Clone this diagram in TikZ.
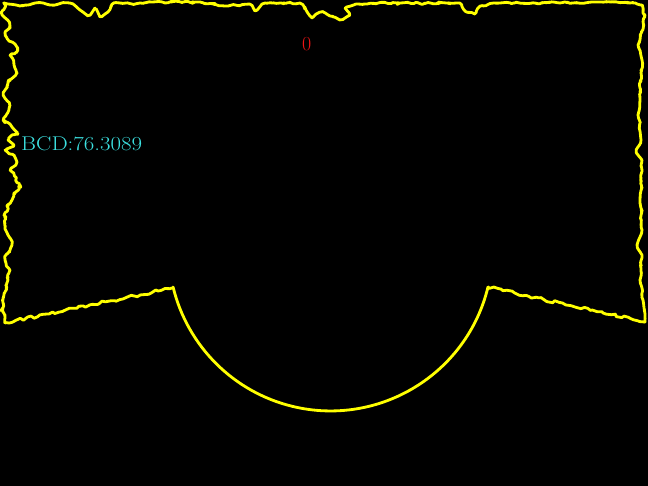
\documentclass[tikz,border=0pt]{standalone}
\usepackage{tikz}
\usetikzlibrary{decorations.pathmorphing,positioning,calc}

\begin{document}
\pgfmathsetseed{7}
\begin{tikzpicture}[
    x=0.03cm, y=-0.03cm,
    edge/.style={draw=contour, line width=2.4pt, line join=round, line cap=round},
    rough/.style={decoration={random steps, segment length=3pt, amplitude=1.3pt}},
    rougher/.style={decoration={random steps, segment length=2.5pt, amplitude=2pt}},
    label/.style={anchor=base west, inner sep=0pt, font=\fontsize{17}{17}\selectfont}
]
\definecolor{contour}{RGB}{255,255,0}
\definecolor{score}{RGB}{60,225,225}
\definecolor{index}{RGB}{240,20,20}

% Background
\fill[black] (0,0) rectangle (648,486);
\useasboundingbox (0,0) rectangle (648,486);

% Corner and knee points of the contour
\coordinate (bl) at (5,323);
\coordinate (tl) at (4,3);
\coordinate (tr) at (642,5);
\coordinate (br) at (645,322);
\coordinate (rk) at (488,287);
\coordinate (lk) at (172,288);

% Left edge
\path[edge, rounded corners=1.5pt] (bl)
  decorate[rougher]{-- (3,300) -- (8,280) -- (10,270) -- (5,260) -- (12,245)
  -- (8,235) -- (4,215) -- (12,200) -- (20,185) -- (10,170) -- (16,165)
  -- (14,155) -- (5,150) -- (14,146) -- (8,140) -- (18,134) -- (12,127)
  -- (3,120) -- (10,105) -- (3,95) -- (8,82) -- (16,75) -- (14,65)
  -- (10,55) -- (18,50) -- (15,44) -- (5,35) -- (10,25) -- (2,15) -- (tl)};

% Top edge
\path[edge, rounded corners=1.5pt] (tl)
  decorate[rough]{-- (20,6) -- (35,3) -- (50,5) -- (70,3) -- (80,10)
  -- (88,16) -- (95,8) -- (100,17) -- (108,12) -- (112,4) -- (140,3)
  -- (200,2) -- (225,6) -- (250,4) -- (255,11) -- (262,4) -- (300,3)
  -- (306,10) -- (312,18) -- (320,12) -- (330,16) -- (340,20) -- (350,15)
  -- (345,8) -- (356,4) -- (400,3) -- (460,3) -- (466,12) -- (475,14)
  -- (480,6) -- (500,3) -- (560,3) -- (600,2) -- (630,3) -- (tr)};

% Right edge
\path[edge, rounded corners=1.5pt] (tr)
  decorate[rough]{-- (645,15) -- (640,40) -- (638,45) -- (642,60)
  -- (640,100) -- (638,115) -- (641,140) -- (636,150) -- (642,160)
  -- (640,200) -- (642,230) -- (637,245) -- (642,255) -- (640,280)
  -- (643,300) -- (br)};

% Slanted bottom edges
\path[edge] (br) decorate[rough]{-- (rk)};
\path[edge] (lk) decorate[rough]{-- (bl)};

% Round cut-out
\path[edge] (rk) arc[start angle=346.4, end angle=193.6, radius=4.86cm];

% Texts
\node[label, text=index] (idx) at (302,51) {0};
\node[label, text=score] (bcd) at (21,151) {\scalebox{1.15}[1]{BCD:76.3089}};

\end{tikzpicture}
\end{document}
